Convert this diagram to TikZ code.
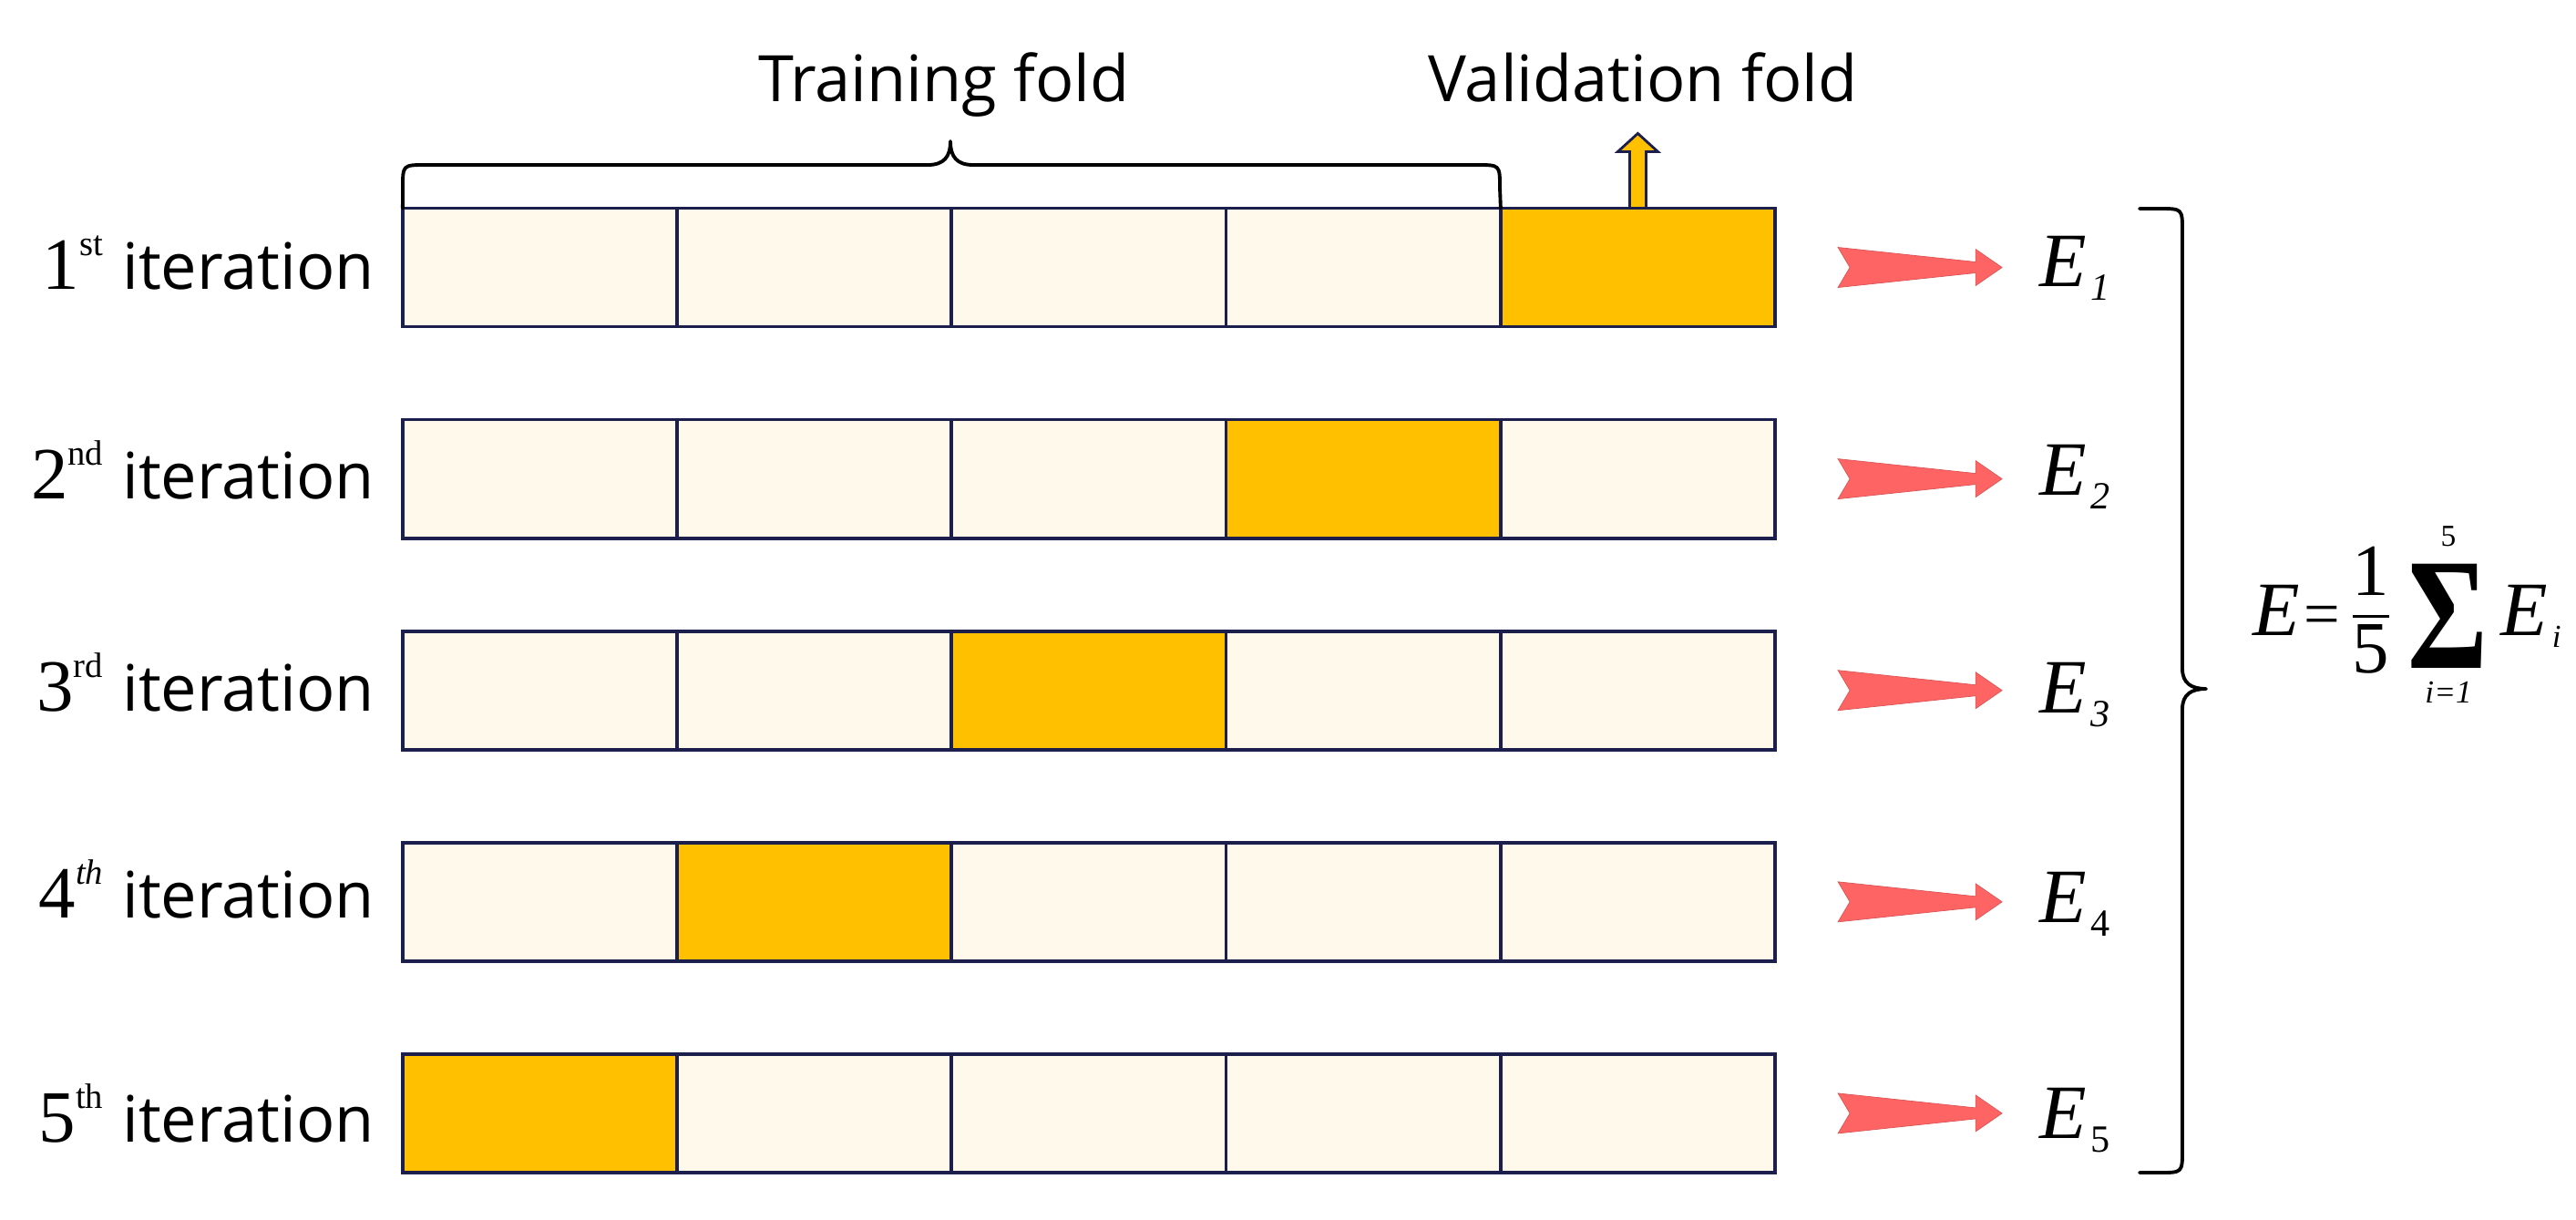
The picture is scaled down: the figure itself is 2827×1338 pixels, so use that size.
\documentclass[tikz,border=0pt]{standalone}
\usepackage{fontspec}
\setmainfont{Liberation Serif}
\newfontfamily\lblsans{Open Sans}
\usepackage{graphicx}
\usetikzlibrary{calc}
\definecolor{cellborder}{RGB}{28,30,75}
\definecolor{cream}{RGB}{255,249,235}
\definecolor{valorange}{RGB}{255,192,0}
\definecolor{arrowred}{RGB}{255,100,100}
\newcommand{\fsz}[1]{\fontsize{#1}{#1}\selectfont}
\newcommand{\iterlbl}[2]{{\fsz{23}#1}\raisebox{10.5pt}{\fsz{11}#2}\hspace{6pt}{\lblsans\fsz{20}iteration}}
\newcommand{\Elbl}[2]{{\fsz{24}\itshape E}\kern1.5pt\raisebox{-4.3pt}{\fsz{12}#2#1}}
\tikzset{
  cell/.style={rectangle, draw=cellborder, line width=1.05pt, minimum width=3.012cm, minimum height=1.30cm, inner sep=0pt, outer sep=0pt},
  lbl/.style={inner sep=0pt, outer sep=0pt},
  bracestyle/.style={draw=black, line width=1.1pt, line join=round, line cap=round},
  redarrow/.style={fill=arrowred, draw=arrowred!85!black, line width=0.2pt},
  valarrow/.style={fill=valorange, draw=cellborder, line width=0.8pt, line join=miter}
}
\begin{document}
\begin{tikzpicture}[x=0.01cm, y=-0.01cm]
\useasboundingbox (0,0) rectangle (2827,1338);
% cells
\foreach \r/\y in {1/293.5, 2/525.6, 3/757.7, 4/989.8, 5/1221.9}{
  \foreach \k/\x in {1/592.6, 2/893.8, 3/1195, 4/1496.2, 5/1797.4}{
    \ifnum\k=\numexpr6-\r\relax \def\fc{valorange}\else\def\fc{cream}\fi
    \node[cell, fill=\fc] (c\r\k) at (\x,\y) {};
  }
}
% row labels
\node[lbl, anchor=base east] (it1) at (411,317) {\iterlbl{1}{st}};
\node[lbl, anchor=base east] (it2) at (411,547) {\iterlbl{2}{nd}};
\node[lbl, anchor=base east] (it3) at (411,780) {\iterlbl{3}{rd}};
\node[lbl, anchor=base east] (it4) at (411,1007) {\iterlbl{4}{\itshape th}};
\node[lbl, anchor=base east] (it5) at (411,1253) {\iterlbl{5}{th}};
% red arrows
\foreach \r in {1,...,5}{
  \begin{scope}[shift={(c\r5.east)}]
    \path[redarrow] (69,-22) -- (220,-6) -- (220,-20) -- (249,0) -- (220,20) -- (220,6) -- (69,22) -- (82,0) -- cycle;
  \end{scope}
}
% E labels
\node[lbl, anchor=base west] (E1) at (2238,314) {\Elbl{1}{\itshape}};
\node[lbl, anchor=base west] (E2) at (2238,543) {\Elbl{2}{\itshape}};
\node[lbl, anchor=base west] (E3) at (2238,782) {\Elbl{3}{\itshape}};
\node[lbl, anchor=base west] (E4) at (2238,1012) {\Elbl{4}{\upshape}};
\node[lbl, anchor=base west] (E5) at (2238,1249) {\Elbl{5}{\upshape}};
% top labels
\node[lbl, anchor=base] (train) at (1036,111) {\lblsans\fsz{20}Training fold};
\node[lbl, anchor=base] (valid) at (1803,111) {\lblsans\fsz{20}Validation fold};
% training brace
\path[bracestyle] (c11.north west) -- (442,206) .. controls (442,181) .. (467,181) -- (1018,181)
  .. controls (1036,181) and (1043,172) .. (1043,155)
  .. controls (1043,172) and (1050,181) .. (1068,181) -- (1621,181)
  .. controls (1646,181) .. (1646,206) -- (c14.north east);
% validation arrow
\begin{scope}[shift={(c15.north)}]
  \path[valarrow] (-9,0) -- (-9,-62) -- (-22,-62) -- (0,-82) -- (22,-62) -- (9,-62) -- (9,0) -- cycle;
\end{scope}
% right brace
\path[bracestyle] (2348,229) -- (2370,229) .. controls (2395,229) .. (2395,254) -- (2395,734)
  .. controls (2395,750) and (2405,756) .. (2421,756)
  .. controls (2405,756) and (2395,762) .. (2395,778) -- (2395,1262)
  .. controls (2395,1287) .. (2370,1287) -- (2348,1287);
% formula
\node[lbl, anchor=base west] (fE) at (2472,697) {\fsz{24}\itshape E};
\node[lbl, anchor=base] (feq) at (2548,697) {\fsz{20}=};
\node[lbl, anchor=base] (fnum) at (2602,653) {\fsz{23}1};
\node[lbl, anchor=base] (fden) at (2602,738) {\fsz{23}5};
\draw[line width=0.85pt] (2582,676) -- (2622,676);
\node[lbl, anchor=center] (fsum) at (2686.5,676.5) {\resizebox{25pt}{32.5pt}{\bfseries Σ}};
\node[lbl, anchor=base] (fup) at (2687,599) {\fsz{9.5}5};
\node[lbl, anchor=base] (flow) at (2687,771) {\fsz{10}\itshape i=1};
\node[lbl, anchor=base west] (fEi) at (2744,697) {{\fsz{24}\itshape E}\kern1.5pt\raisebox{-3.7pt}{\fsz{10}\itshape i}};
\end{tikzpicture}
\end{document}
